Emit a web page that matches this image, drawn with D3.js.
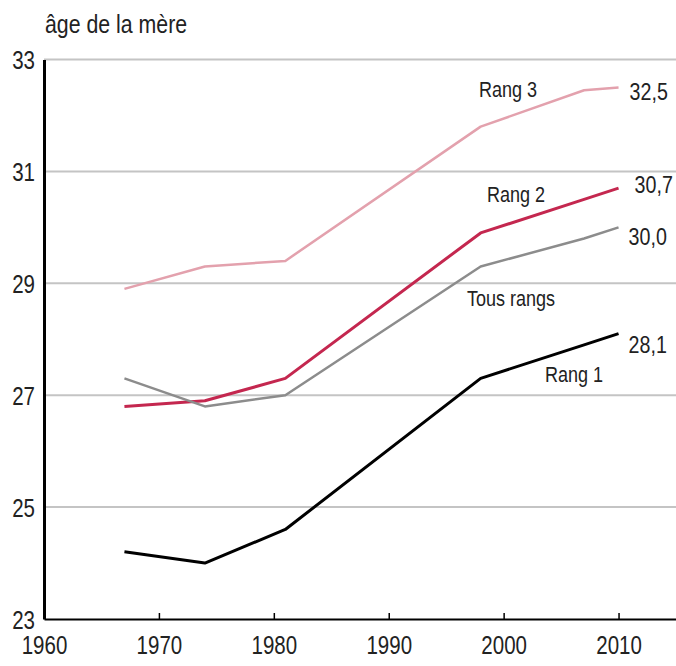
<!DOCTYPE html>
<html>
<head>
<meta charset="utf-8">
<script src="https://cdn.jsdelivr.net/npm/d3@7"></script>
<style>
  body { margin: 0; background: #ffffff; }
  svg text { font-family: "Liberation Sans", Arial, sans-serif; fill: #222; }
</style>
</head>
<body>
<svg id="chart" width="676" height="666"></svg>
<script>
// années d'observation
var v_Years    = [1967, 1974, 1981, 1998, 2007, 2010];

// âge moyen de la mère à la naissance, par rang
var v_Rang1    = [24.2, 24.0, 24.6, 27.3, 27.9, 28.1];
var v_Rang2    = [26.8, 26.9, 27.3, 29.9, 30.5, 30.7];
var v_Rang3    = [28.9, 29.3, 29.4, 31.8, 32.45, 32.5];
var v_Tous     = [27.3, 26.8, 27.0, 29.3, 29.8, 30.0];

var v_XTicks   = [1960, 1970, 1980, 1990, 2000, 2010];
var v_YTicks   = [23, 25, 27, 29, 31, 33];



var v_SVG    = d3.select("#chart");
var v_Left   = 44;
var v_Top    = 59.5;
var v_Bottom = 619;
var v_Right  = 676;
var v_Narrow = 0.82;   // police condensée simulée

var v_X = d3.scaleLinear().domain([1960, 2015]).range([v_Left, v_Right]);
var v_Y = d3.scaleLinear().domain([23, 33]).range([v_Bottom, v_Top]);

// titre de l'axe
v_SVG.append("text")
    .attr("x", 45)
    .attr("y", 33)
    .style("font-size", "26px")
    .text("âge de la mère");

// grille horizontale
v_SVG.append("g")
    .selectAll("line")
    .data(v_YTicks.filter(function (d) { return d > 23; }))
    .join("line")
    .attr("x1", v_Left)
    .attr("x2", v_Right)
    .attr("y1", function (d) { return v_Y(d); })
    .attr("y2", function (d) { return v_Y(d); })
    .attr("stroke", "#c4c4c4")
    .attr("stroke-width", 2);

// axe Y
var v_YAxis = v_SVG.append("g")
    .attr("transform", "translate(" + v_Left + ",0)")
    .call(d3.axisLeft(v_Y).tickValues(v_YTicks).tickSize(0).tickPadding(9).tickFormat(d3.format("d")));
v_YAxis.select(".domain").attr("stroke", "#000").attr("stroke-width", 3);
v_YAxis.selectAll("text")
    .style("font-size", "25px")
    .attr("dy", "0.36em")
    .attr("fill", "#222");

// axe X
var v_XAxis = v_SVG.append("g")
    .attr("transform", "translate(0," + v_Bottom + ")")
    .call(d3.axisBottom(v_X).tickValues(v_XTicks).tickSize(0).tickPadding(28).tickFormat(d3.format("d")));
v_XAxis.select(".domain").attr("stroke", "#000").attr("stroke-width", 2);
v_XAxis.selectAll("text")
    .style("font-size", "25px")
    .attr("dy", "0.3em")
    .attr("fill", "#222");
v_XAxis.selectAll(".tick")
    .filter(function (d) { return d > 1960; })
    .append("line")
    .attr("y1", 0)
    .attr("y2", -6)
    .attr("stroke", "#000")
    .attr("stroke-width", 1.5);

// séries
var v_Series = [
    { name: "Rang 3",     values: v_Rang3, color: "#e3a1ad", width: 2.5, lx: 508, ly: 97,  vdx: 11, vdy: 13 },
    { name: "Rang 2",     values: v_Rang2, color: "#c4274f", width: 3,   lx: 516, ly: 202, vdx: 16, vdy: 5  },
    { name: "Tous rangs", values: v_Tous,  color: "#8c8c8c", width: 2.5, lx: 511, ly: 306, vdx: 10, vdy: 18 },
    { name: "Rang 1",     values: v_Rang1, color: "#000000", width: 3,   lx: 574, ly: 382, vdx: 10, vdy: 19 }
];

var v_Line = d3.line()
    .x(function (d, i) { return v_X(v_Years[i]); })
    .y(function (d) { return v_Y(d); });

var v_FmtFr = function (v) { return d3.format(".1f")(v).replace(".", ","); };

v_Series.forEach(function (s) {
    v_SVG.append("path")
        .datum(s.values)
        .attr("d", v_Line)
        .attr("fill", "none")
        .attr("stroke", s.color)
        .attr("stroke-width", s.width)
        .attr("stroke-linejoin", "round");

    var v_Last = s.values[s.values.length - 1];
    v_SVG.append("text")
        .attr("x", v_X(v_Years[v_Years.length - 1]) + s.vdx)
        .attr("y", v_Y(v_Last) + s.vdy)
        .style("font-size", "24px")
        .text(v_FmtFr(v_Last));

    v_SVG.append("text")
        .attr("x", s.lx)
        .attr("y", s.ly)
        .attr("text-anchor", "middle")
        .style("font-size", "22px")
        .text(s.name);
});

// resserrer tous les textes autour de leur point d'ancrage (aspect condensé)
v_SVG.selectAll("text").each(function () {
    var v_AX = +d3.select(this).attr("x") || 0;
    d3.select(this)
        .attr("transform", "translate(" + v_AX + ",0) scale(" + v_Narrow + ",1) translate(" + (-v_AX) + ",0)");
});
</script>
</body>
</html>
